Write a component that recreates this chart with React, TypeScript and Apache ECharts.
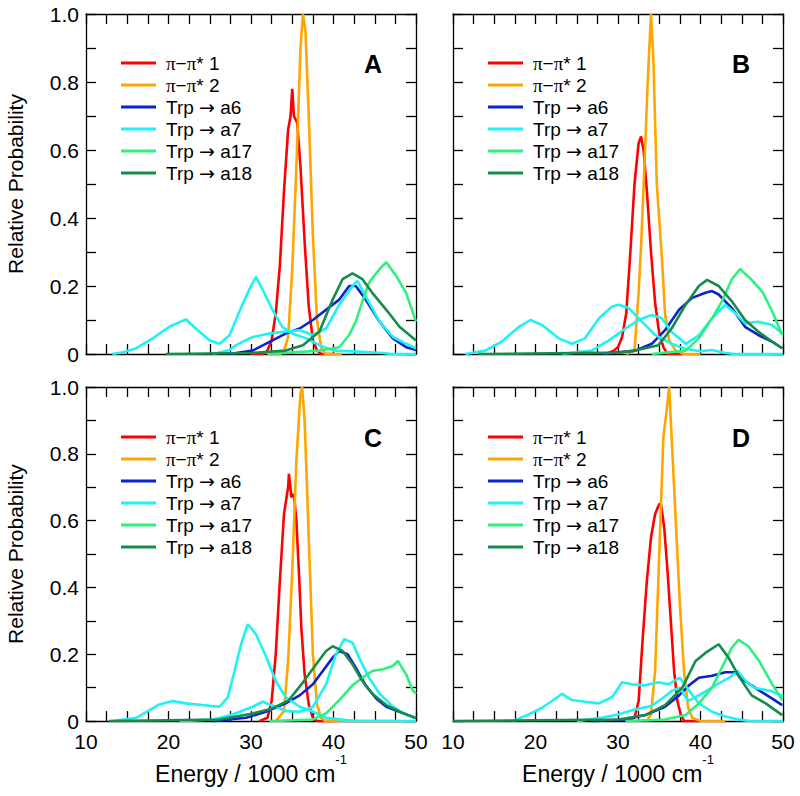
import React, { useEffect, useRef } from 'react';
import * as echarts from 'echarts';

type Pt = [number, number];

// ---------- tick labels / names ----------
const X_MIN = 10;
const X_MAX = 50;
const Y_MIN = 0;
const Y_MAX = 1;
const SERIES_NAMES = ['π−π* 1', 'π−π* 2', 'Trp → a6', 'Trp → a7', 'Trp → a17', 'Trp → a18'];
const PANEL_LETTERS = ['A', 'B', 'C', 'D'];
const COLORS = ['#ff0000', '#ffa500', '#0b22cc', '#1ef2f2', '#2ef07e', '#168c4c'];

// ---------- panel A ----------
const A_pi1: Pt[] = [[30, 0], [31.5, 0], [32, 0.01], [32.5, 0.04], [33, 0.12], [33.5, 0.26], [34, 0.48], [34.5, 0.66], [34.8, 0.7], [35, 0.78], [35.2, 0.7], [35.6, 0.68], [36, 0.55], [36.5, 0.33], [37, 0.14], [37.5, 0.04], [38, 0.01], [38.5, 0], [40, 0]];
const A_pi2: Pt[] = [[32, 0], [33.5, 0], [34, 0.01], [34.5, 0.05], [35, 0.25], [35.5, 0.55], [36, 0.9], [36.3, 1.0], [36.6, 0.95], [37, 0.7], [37.5, 0.35], [38, 0.1], [38.5, 0.02], [39, 0], [41, 0]];
const A_a6: Pt[] = [[27.4, 0], [30.2, 0.01], [32.6, 0.04], [34.2, 0.06], [35.9, 0.075], [37.5, 0.1], [39.1, 0.13], [40.7, 0.16], [41.9, 0.2], [42.7, 0.2], [43.9, 0.16], [45.6, 0.095], [47.2, 0.046], [48.8, 0.02], [50, 0.012]];
const A_a7: Pt[] = [[13.2, 0], [14.5, 0.005], [16.1, 0.017], [18.1, 0.046], [20.1, 0.08], [22.1, 0.102], [23.3, 0.075], [25, 0.04], [26.2, 0.03], [27.4, 0.055], [28.6, 0.125], [29.8, 0.19], [30.6, 0.227], [31.4, 0.19], [32.6, 0.13], [33.8, 0.08], [35, 0.06], [36.7, 0.046], [38.3, 0.026], [40, 0.01], [43, 0.007], [46, 0.003], [47, 0], [50, 0]];
const A_a7b: Pt[] = [[25.4, 0], [27.4, 0.012], [28.2, 0.026], [30.2, 0.05], [32.2, 0.06], [34.2, 0.066], [35.9, 0.07], [37.5, 0.056], [39.1, 0.075], [40.7, 0.145], [42.3, 0.2], [42.9, 0.215], [43.9, 0.17], [45.6, 0.095], [47.2, 0.05], [48.8, 0.03], [50, 0.017]];
const A_a17: Pt[] = [[32.2, 0], [38.3, 0.01], [40.7, 0.02], [41.9, 0.056], [42.7, 0.095], [43.5, 0.155], [44.3, 0.21], [45.6, 0.25], [46.4, 0.27], [47.6, 0.23], [48.8, 0.18], [50, 0.095]];
const A_a18: Pt[] = [[19.7, 0], [30, 0.003], [34.2, 0.01], [36.3, 0.026], [38.3, 0.066], [39.9, 0.16], [41.1, 0.22], [42.3, 0.237], [43.5, 0.22], [44.7, 0.18], [46.4, 0.13], [48, 0.08], [50, 0.04]];

// ---------- panel B ----------
const B_pi1: Pt[] = [[28.5, 0], [29.5, 0.01], [30, 0.02], [30.5, 0.05], [31, 0.12], [31.5, 0.3], [32, 0.5], [32.5, 0.62], [32.8, 0.64], [33.1, 0.6], [33.5, 0.48], [34, 0.3], [34.5, 0.15], [35, 0.06], [35.5, 0.02], [36, 0], [38, 0]];
const B_pi2: Pt[] = [[31, 0], [32, 0.01], [32.5, 0.18], [32.8, 0.32], [33.2, 0.55], [33.6, 0.8], [34, 1.0], [34.3, 0.86], [34.7, 0.5], [35.3, 0.29], [35.7, 0.12], [36.2, 0.04], [37, 0.01], [38, 0], [40, 0]];
const B_a6: Pt[] = [[28.1, 0], [32.1, 0.01], [34.1, 0.03], [35.7, 0.07], [37.4, 0.13], [39, 0.165], [40.6, 0.18], [41.4, 0.185], [42.2, 0.175], [43.8, 0.135], [45.4, 0.08], [47, 0.056], [48.7, 0.036], [49.9, 0.017]];
const B_a7: Pt[] = [[11.5, 0], [13.9, 0.01], [15.9, 0.036], [18, 0.08], [19.4, 0.1], [20.8, 0.085], [22.8, 0.046], [24.4, 0.03], [26, 0.046], [27.7, 0.105], [29.3, 0.14], [30.1, 0.145], [31.3, 0.135], [32.9, 0.095], [34.5, 0.056], [36.5, 0.03], [38.2, 0.015], [40, 0.008], [41.4, 0.012], [43, 0.003], [44.2, 0], [50, 0]];
const B_a7b: Pt[] = [[23.2, 0], [26.8, 0.01], [28.9, 0.04], [30.9, 0.075], [32.5, 0.1], [34.1, 0.115], [35.3, 0.105], [36.5, 0.065], [38.2, 0.03], [39.8, 0.055], [41.4, 0.105], [43, 0.145], [44.2, 0.12], [45.4, 0.09], [47, 0.095], [48.7, 0.085], [49.9, 0.06]];
const B_a17: Pt[] = [[34.1, 0], [38.2, 0.01], [39.8, 0.046], [41.4, 0.105], [42.6, 0.155], [43.8, 0.22], [44.8, 0.25], [46.2, 0.218], [47.5, 0.183], [48.7, 0.125], [49.9, 0.056]];
const B_a18: Pt[] = [[13.1, 0], [30, 0.004], [32.1, 0.01], [34.9, 0.026], [36.5, 0.075], [38.2, 0.145], [39.8, 0.2], [40.8, 0.218], [42.2, 0.2], [43.8, 0.155], [45.4, 0.1], [47, 0.066], [48.7, 0.036], [49.9, 0.017]];

// ---------- panel C ----------
const C_pi1: Pt[] = [[31, 0], [32, 0.01], [32.5, 0.06], [33, 0.2], [33.5, 0.42], [34, 0.62], [34.5, 0.7], [34.6, 0.74], [34.9, 0.67], [35.2, 0.68], [35.5, 0.6], [35.8, 0.45], [36.1, 0.28], [36.5, 0.14], [37, 0.05], [37.5, 0.01], [38, 0], [40, 0]];
const C_pi2: Pt[] = [[33, 0], [34, 0.03], [34.5, 0.18], [35, 0.45], [35.5, 0.78], [36, 0.98], [36.2, 1.0], [36.5, 0.9], [37, 0.55], [37.5, 0.2], [38, 0.05], [38.5, 0.01], [39, 0], [48, 0]];
const C_a6: Pt[] = [[25.4, 0], [29.4, 0.01], [31.8, 0.028], [34.2, 0.053], [35.9, 0.077], [37.5, 0.11], [38.7, 0.15], [39.9, 0.19], [40.7, 0.21], [41.7, 0.2], [42.7, 0.16], [43.9, 0.107], [45.2, 0.067], [46.4, 0.043], [48, 0.028], [50, 0.009]];
const C_a7: Pt[] = [[13.2, 0], [16.1, 0.01], [17.5, 0.03], [18.9, 0.05], [20.5, 0.06], [22.1, 0.053], [24.1, 0.048], [26.2, 0.043], [27.2, 0.072], [28, 0.15], [28.8, 0.23], [29.6, 0.29], [30.6, 0.26], [31.8, 0.195], [33, 0.12], [34.2, 0.072], [35.9, 0.043], [37.5, 0.028], [39.1, 0.01], [41.5, 0.003], [43, 0], [50, 0]];
const C_a7b: Pt[] = [[21.3, 0], [25.4, 0.005], [27.8, 0.02], [30.2, 0.043], [31.4, 0.058], [33, 0.043], [34.2, 0.03], [35.9, 0.028], [37.5, 0.043], [39.1, 0.11], [40.3, 0.2], [41.3, 0.245], [42.3, 0.235], [43.1, 0.19], [44.3, 0.13], [45.6, 0.082], [47.2, 0.043], [48.8, 0.019], [50, 0.009]];
const C_a17: Pt[] = [[32.2, 0], [37.5, 0.005], [39.1, 0.023], [40.7, 0.063], [42.3, 0.107], [43.5, 0.13], [44.7, 0.15], [46, 0.155], [47.2, 0.165], [47.8, 0.18], [48.8, 0.14], [49.6, 0.092], [50, 0.082]];
const C_a18: Pt[] = [[12.8, 0], [26.2, 0.005], [30.2, 0.023], [32.6, 0.038], [34.6, 0.063], [36.3, 0.116], [37.9, 0.17], [39.1, 0.21], [39.9, 0.224], [41.1, 0.21], [42.3, 0.17], [43.5, 0.12], [44.7, 0.082], [46.4, 0.048], [48, 0.028], [50, 0.009]];

// ---------- panel D ----------
const D_pi1: Pt[] = [[31, 0], [32, 0.01], [32.5, 0.06], [33, 0.25], [33.5, 0.42], [34, 0.55], [34.5, 0.62], [35, 0.65], [35.2, 0.65], [35.6, 0.58], [36, 0.45], [36.4, 0.3], [36.8, 0.15], [37.2, 0.06], [37.6, 0.02], [38, 0], [40, 0]];
const D_pi2: Pt[] = [[33.5, 0], [34, 0.02], [34.5, 0.15], [35, 0.5], [35.5, 0.85], [35.9, 0.93], [36.2, 1.0], [36.5, 0.85], [37, 0.6], [37.5, 0.35], [38, 0.15], [38.5, 0.04], [39, 0.01], [40, 0], [43, 0]];
const D_a6: Pt[] = [[26.8, 0], [30.9, 0.005], [33.3, 0.018], [35.7, 0.043], [37.4, 0.077], [38.6, 0.107], [39.8, 0.13], [41.4, 0.136], [43, 0.146], [44.2, 0.146], [45.4, 0.12], [47.1, 0.092], [48.7, 0.067], [49.9, 0.048]];
const D_a7: Pt[] = [[17.2, 0], [19.2, 0.02], [20.8, 0.04], [22.4, 0.067], [23.2, 0.082], [24.4, 0.063], [26, 0.058], [27.7, 0.053], [29.3, 0.072], [30.5, 0.116], [31.7, 0.11], [33.3, 0.107], [34.9, 0.116], [36.1, 0.11], [37.5, 0.13], [38.6, 0.092], [39.8, 0.053], [41.4, 0.028], [43, 0.014], [44.6, 0.005], [46, 0], [50, 0]];
const D_a7b: Pt[] = [[25, 0], [28, 0.01], [30, 0.02], [32, 0.035], [34, 0.045], [35.5, 0.07], [36.5, 0.09], [37.5, 0.1], [38.5, 0.06], [40, 0.08], [42, 0.11], [43.5, 0.13], [44.5, 0.15], [45.5, 0.12], [46.5, 0.1], [47.5, 0.095], [48.5, 0.09], [49.5, 0.08], [50, 0.075]];
const D_a17: Pt[] = [[30.9, 0], [35.7, 0.005], [38.2, 0.018], [39.8, 0.053], [41.4, 0.1], [42.6, 0.16], [43.8, 0.22], [44.6, 0.243], [45.8, 0.224], [47.1, 0.18], [48.7, 0.11], [49.9, 0.063]];
const D_a18: Pt[] = [[10, 0], [30.1, 0.005], [33.3, 0.018], [35.7, 0.048], [37.8, 0.1], [39.4, 0.18], [40.6, 0.204], [42.2, 0.23], [43.4, 0.19], [44.6, 0.136], [46.2, 0.077], [47.9, 0.053], [49.9, 0.018]];

// each panel: [pi1, pi2, a6, a7, a17, a18, a7 second band]
const PANELS: Pt[][][] = [
  [A_pi1, A_pi2, A_a6, A_a7, A_a17, A_a18, A_a7b],
  [B_pi1, B_pi2, B_a6, B_a7, B_a17, B_a18, B_a7b],
  [C_pi1, C_pi2, C_a6, C_a7, C_a17, C_a18, C_a7b],
  [D_pi1, D_pi2, D_a6, D_a7, D_a17, D_a18, D_a7b],
];

const FONT = '"Liberation Sans", Arial, Helvetica, sans-serif';

const GRIDS = [
  { left: 86, top: 14, width: 330, height: 340 },
  { left: 453, top: 14, width: 330, height: 340 },
  { left: 86, top: 387, width: 330, height: 341 },
  { left: 453, top: 387, width: 330, height: 341 },
];

const axisLine = { show: true, onZero: false, lineStyle: { color: '#000', width: 1.3 } };
const tickStyle = { color: '#000', width: 1.3 };

function buildOption() {
  const xAxis: any[] = [];
  const yAxis: any[] = [];
  const series: any[] = [];
  const legend: any[] = [];
  const graphic: any[] = [];

  GRIDS.forEach((g, i) => {
    const isLeft = i % 2 === 0;
    const isBottom = i >= 2;
    xAxis.push({
      type: 'value', gridIndex: i, position: 'bottom', min: X_MIN, max: X_MAX, interval: 10,
      axisLine, axisTick: { show: true, inside: true, length: 10, lineStyle: tickStyle },
      minorTick: { show: true, splitNumber: 4, length: 10, lineStyle: tickStyle },
      splitLine: { show: false }, minorSplitLine: { show: false },
      axisLabel: { show: isBottom, fontSize: 21, fontFamily: FONT, color: '#000', margin: 10 },
      name: isBottom ? 'Energy / 1000 cm{sup|-1}' : '',
      nameLocation: 'middle', nameGap: 30,
      nameTextStyle: {
        fontSize: 23, fontFamily: FONT, color: '#000', lineHeight: 42,
        rich: { sup: { fontSize: 13, fontFamily: FONT, color: '#000', verticalAlign: 'top', lineHeight: 13 } },
      },
    });
    xAxis.push({
      type: 'value', gridIndex: i, position: 'top', min: X_MIN, max: X_MAX, interval: 10,
      axisLine, axisTick: { show: true, inside: true, length: 10, lineStyle: tickStyle },
      minorTick: { show: true, splitNumber: 4, length: 10, lineStyle: tickStyle },
      splitLine: { show: false }, axisLabel: { show: false },
    });
    yAxis.push({
      type: 'value', gridIndex: i, position: 'left', min: Y_MIN, max: Y_MAX, interval: 0.2,
      axisLine, axisTick: { show: true, inside: true, length: 10, lineStyle: tickStyle },
      minorTick: { show: true, splitNumber: 2, length: 10, lineStyle: tickStyle },
      splitLine: { show: false }, minorSplitLine: { show: false },
      axisLabel: {
        show: isLeft, fontSize: 21, fontFamily: FONT, color: '#000', margin: 7,
        formatter: (v: number) => (v === 0 ? '0' : v.toFixed(1)),
      },
      name: isLeft ? 'Relative Probability' : '',
      nameLocation: 'middle', nameGap: 60,
      nameTextStyle: { fontSize: 21, fontFamily: FONT, color: '#000' },
    });
    yAxis.push({
      type: 'value', gridIndex: i, position: 'right', min: Y_MIN, max: Y_MAX, interval: 0.2,
      axisLine, axisTick: { show: true, inside: true, length: 10, lineStyle: tickStyle },
      minorTick: { show: true, splitNumber: 2, length: 10, lineStyle: tickStyle },
      splitLine: { show: false }, axisLabel: { show: false },
    });

    const data = PANELS[i];
    const order = [0, 1, 2, 3, 6, 4, 5];
    order.forEach((k) => {
      const colorIdx = k === 6 ? 3 : k;
      series.push({
        type: 'line',
        name: k === 6 ? 'Trp → a7 (band 2)' : SERIES_NAMES[k],
        xAxisIndex: i * 2, yAxisIndex: i * 2,
        data: data[k],
        symbol: 'none', showSymbol: false,
        lineStyle: { color: COLORS[colorIdx], width: 2.6 },
        itemStyle: { color: COLORS[colorIdx] },
        emphasis: { disabled: true },
        clip: true,
      });
    });

    legend.push({
      orient: 'vertical',
      left: isLeft ? 116 : 483,
      top: (isBottom ? 432 : 58) - 11,
      icon: 'rect',
      itemWidth: 35, itemHeight: 3, itemGap: 0,
      selectedMode: false,
      data: SERIES_NAMES,
      formatter: (name: string) => {
        if (name.startsWith('π')) {
          const n = name.slice(name.length - 1);
          return `{s|π}{t|−}{s|π}{t|* ${n}}`;
        }
        const parts = name.split('→');
        return `{t|${parts[0]}}{r|→}{t|${parts[1]}}`;
      },
      textStyle: {
        fontSize: 19, fontFamily: FONT, color: '#000', lineHeight: 22, padding: [0, 0, 0, 5],
        rich: {
          s: { fontSize: 19, fontFamily: '"Liberation Serif", "Times New Roman", serif', color: '#000', lineHeight: 22 },
          t: { fontSize: 19, fontFamily: FONT, color: '#000', lineHeight: 22 },
          r: { fontSize: 19, fontFamily: '"DejaVu Sans", sans-serif', color: '#000', lineHeight: 22 },
        },
      },
    });

    graphic.push({
      type: 'text',
      x: isLeft ? 373 : 741,
      y: isBottom ? 438 : 64,
      style: {
        text: PANEL_LETTERS[i], fill: '#000',
        font: `bold 25px ${FONT}`, align: 'center', verticalAlign: 'middle',
      },
    });
  });

  return {
    animation: false,
    backgroundColor: '#ffffff',
    grid: GRIDS.map((g) => ({ ...g, containLabel: false })),
    xAxis, yAxis, series, legend, graphic,
  };
}

export default function App() {
  const ref = useRef<HTMLDivElement>(null);
  useEffect(() => {
    if (!ref.current) return;
    const chart = echarts.init(ref.current, undefined, { renderer: 'svg' });
    chart.setOption(buildOption() as any);
    return () => chart.dispose();
  }, []);
  return (
    <div
      ref={ref}
      style={{ position: 'absolute', left: 0, top: 0, width: 800, height: 796, background: '#fff' }}
    />
  );
}
